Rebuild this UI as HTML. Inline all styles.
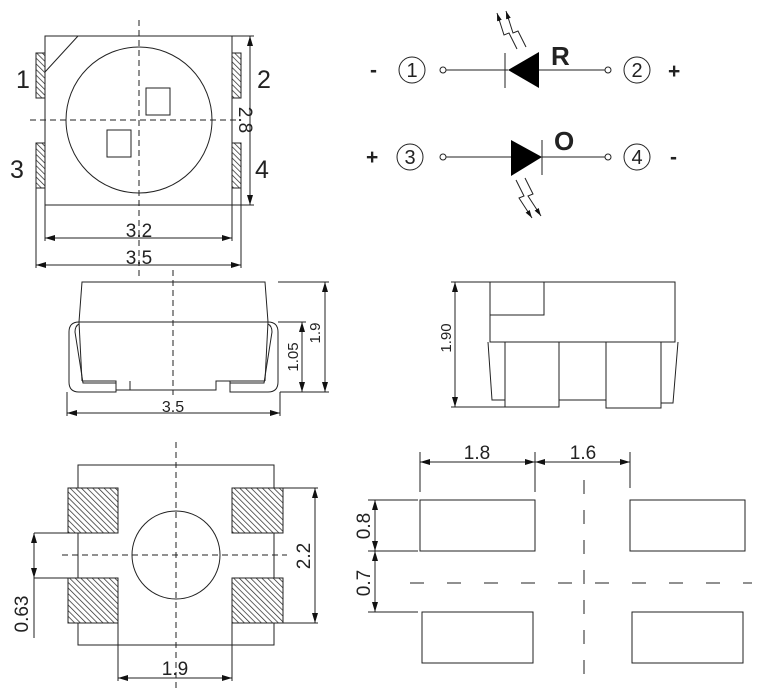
<!DOCTYPE html>
<html><head><meta charset="utf-8"><style>
html,body{margin:0;padding:0;background:#fff;}
svg{display:block;}
text{font-family:"Liberation Sans",sans-serif;fill:#222;}
</style></head><body>
<svg width="764" height="690" viewBox="0 0 764 690" xmlns="http://www.w3.org/2000/svg">
<defs>
<pattern id="h" width="4" height="4" patternUnits="userSpaceOnUse" patternTransform="rotate(-45)">
<rect width="4" height="4" fill="#fff"/><line x1="0" y1="0" x2="0" y2="4" stroke="#222" stroke-width="1.4"/>
</pattern>
<marker id="a" viewBox="0 0 10 6" refX="10" refY="3" markerWidth="10" markerHeight="6" orient="auto-start-reverse" markerUnits="userSpaceOnUse"><path d="M0,0 L10,3 L0,6 z" fill="#111"/></marker>
<marker id="s" viewBox="0 0 10 6" refX="10" refY="3" markerWidth="8" markerHeight="6" orient="auto" markerUnits="userSpaceOnUse"><path d="M0,0 L10,3 L0,6 z" fill="#111"/></marker>
</defs>
<g stroke="#222" stroke-width="1" fill="none">
<!-- top view -->
<rect x="45" y="36" width="187" height="169"/>
<line x1="78" y1="36" x2="45" y2="72"/>
<circle cx="139" cy="120" r="73"/>
<rect x="146" y="88" width="24" height="27"/>
<rect x="107" y="130" width="24" height="27"/>
<rect x="36" y="53" width="9" height="45" fill="url(#h)"/>
<rect x="36" y="143" width="9" height="45" fill="url(#h)"/>
<rect x="232" y="53" width="9" height="45" fill="url(#h)"/>
<rect x="232" y="143" width="9" height="45" fill="url(#h)"/>
<line x1="139" y1="20" x2="139" y2="280" stroke-dasharray="6,4"/>
<line x1="30" y1="120" x2="240" y2="120" stroke-dasharray="6,4"/>
<line x1="232" y1="36" x2="254" y2="36"/><line x1="232" y1="205" x2="254" y2="205"/>
<line x1="250" y1="36" x2="250" y2="205" marker-start="url(#a)" marker-end="url(#a)"/>
<line x1="45" y1="205" x2="45" y2="241"/><line x1="232" y1="205" x2="232" y2="241"/>
<line x1="45" y1="238" x2="232" y2="238" marker-start="url(#a)" marker-end="url(#a)"/>
<line x1="36" y1="188" x2="36" y2="268"/><line x1="241" y1="188" x2="241" y2="268"/>
<line x1="36" y1="265" x2="241" y2="265" marker-start="url(#a)" marker-end="url(#a)"/>
<!-- side view -->
<path d="M82,282 L265,282 L268,322 L79,322 Z"/>
<line x1="79" y1="322" x2="82" y2="381"/><line x1="268" y1="322" x2="265" y2="381"/>
<path d="M82,381 L116,381 L116,390 L130,390 L130,381 L130,390 L216,390 L216,381 L230,381 L230,390 M230,381 L265,381"/>
<path d="M79,322 Q69,322 69,332 L69,382 Q69,392 79,392 L116,392 L116,383 L83,383 L75,332 Q75,326 79,324"/>
<path d="M268,322 Q278,322 278,332 L278,382 Q278,392 268,392 L230,392 L230,383 L264,383 L272,332 Q272,326 268,324"/>
<line x1="173" y1="270" x2="173" y2="395" stroke-dasharray="6,4"/>
<line x1="278" y1="282" x2="329" y2="282"/><line x1="278" y1="322" x2="306" y2="322"/><line x1="280" y1="392" x2="329" y2="392"/>
<line x1="325" y1="282" x2="325" y2="392" marker-start="url(#a)" marker-end="url(#a)"/>
<line x1="302" y1="322" x2="302" y2="392" marker-start="url(#a)" marker-end="url(#a)"/>
<line x1="67" y1="392" x2="67" y2="416"/><line x1="280" y1="392" x2="280" y2="416"/>
<line x1="67" y1="413" x2="280" y2="413" marker-start="url(#a)" marker-end="url(#a)"/>
<!-- right side view -->
<rect x="490" y="282" width="185" height="60"/>
<path d="M490,282 L490,315 L544,315 L544,282"/>
<path d="M488,342 L492,400 L505,400 M678,342 L673,403 L661,403"/>
<rect x="505" y="342" width="54" height="65"/>
<path d="M559,400 L606,400"/>
<rect x="606" y="342" width="55" height="66"/>
<line x1="451" y1="282" x2="490" y2="282"/><line x1="451" y1="407" x2="505" y2="407"/>
<line x1="455" y1="282" x2="455" y2="407" marker-start="url(#a)" marker-end="url(#a)"/>
<!-- schematic -->
<circle cx="443" cy="70" r="3"/><circle cx="608" cy="70" r="3"/>
<line x1="446" y1="70" x2="508" y2="70"/><line x1="538" y1="70" x2="605" y2="70"/>
<line x1="505" y1="53" x2="505" y2="88"/>
<circle cx="443" cy="157" r="3"/><circle cx="608" cy="157" r="3"/>
<line x1="446" y1="157" x2="512" y2="157"/><line x1="542" y1="157" x2="605" y2="157"/>
<line x1="542" y1="140" x2="542" y2="175"/>
<path d="M517,49 L509,33 L504,35 L497,13" marker-end="url(#s)"/>
<path d="M526,47 L518,31 L513,33 L506,11" marker-end="url(#s)"/>
<path d="M516,180 L524,196 L519,198 L532,218" marker-end="url(#s)"/>
<path d="M525,178 L533,194 L528,196 L541,216" marker-end="url(#s)"/>
<circle cx="412" cy="70" r="13"/><circle cx="637" cy="70" r="13"/>
<circle cx="410" cy="157" r="13"/><circle cx="637" cy="157" r="13"/>
<!-- footprint -->
<rect x="78" y="465" width="196" height="180"/>
<rect x="68" y="488" width="50" height="45" fill="url(#h)"/>
<rect x="68" y="578" width="50" height="45" fill="url(#h)"/>
<rect x="232" y="488" width="51" height="45" fill="url(#h)"/>
<rect x="232" y="578" width="51" height="45" fill="url(#h)"/>
<circle cx="176" cy="555" r="44"/>
<line x1="176" y1="442" x2="176" y2="688" stroke-dasharray="6,4"/>
<line x1="62" y1="555" x2="287" y2="555" stroke-dasharray="6,4"/>
<line x1="283" y1="488" x2="318" y2="488"/><line x1="283" y1="623" x2="318" y2="623"/>
<line x1="315" y1="488" x2="315" y2="623" marker-start="url(#a)" marker-end="url(#a)"/>
<line x1="34" y1="533" x2="68" y2="533"/><line x1="34" y1="578" x2="68" y2="578"/>
<line x1="34" y1="533" x2="34" y2="578" marker-start="url(#a)" marker-end="url(#a)"/>
<line x1="34" y1="578" x2="34" y2="638"/>
<line x1="118" y1="623" x2="118" y2="681"/><line x1="232" y1="623" x2="232" y2="681"/>
<line x1="118" y1="678" x2="232" y2="678" marker-start="url(#a)" marker-end="url(#a)"/>
<!-- pad layout -->
<rect x="420" y="500" width="115" height="51"/>
<rect x="630" y="500" width="115" height="51"/>
<rect x="422" y="612" width="111" height="51"/>
<rect x="632" y="612" width="111" height="51"/>
<line x1="584" y1="480" x2="584" y2="680" stroke-dasharray="14,16"/>
<line x1="410" y1="583" x2="752" y2="583" stroke-dasharray="14,23"/>
<line x1="420" y1="452" x2="420" y2="492"/><line x1="535" y1="452" x2="535" y2="492"/><line x1="630" y1="452" x2="630" y2="488"/>
<line x1="420" y1="462" x2="535" y2="462" marker-start="url(#a)" marker-end="url(#a)"/>
<line x1="535" y1="462" x2="630" y2="462" marker-start="url(#a)" marker-end="url(#a)"/>
<line x1="368" y1="500" x2="418" y2="500"/><line x1="368" y1="551" x2="418" y2="551"/><line x1="368" y1="612" x2="418" y2="612"/>
<line x1="375" y1="500" x2="375" y2="551" marker-start="url(#a)" marker-end="url(#a)"/>
<line x1="375" y1="551" x2="375" y2="612" marker-start="url(#a)" marker-end="url(#a)"/>
</g>
<!-- diode triangles -->
<path d="M508,70 L539,52 L539,88 Z" fill="#000"/>
<path d="M511,140 L542,157 L511,176 Z" fill="#000"/>
<!-- texts -->
<g font-size="25">
<text x="16" y="88">1</text><text x="10" y="178">3</text>
<text x="257" y="88">2</text><text x="255" y="178">4</text>
</g>
<g font-size="19" text-anchor="middle">
<text x="139" y="237">3.2</text><text x="139" y="264">3.5</text>
<text x="244" y="120" transform="rotate(90 244 120)" dominant-baseline="middle">2.8</text>
<text x="173" y="412" font-size="16">3.5</text>
<text x="320" y="333" font-size="15" transform="rotate(-90 320 333)">1.9</text>
<text x="298" y="357" font-size="15" transform="rotate(-90 298 357)">1.05</text>
<text x="451" y="338" font-size="15" transform="rotate(-90 451 338)">1.90</text>
<text x="175" y="675">1.9</text>
<text x="310" y="556" transform="rotate(-90 310 556)">2.2</text>
<text x="28" y="614" transform="rotate(-90 28 614)">0.63</text>
<text x="477" y="459">1.8</text><text x="583" y="459">1.6</text>
<text x="370" y="526" transform="rotate(-90 370 526)">0.8</text>
<text x="370" y="583" transform="rotate(-90 370 583)">0.7</text>
</g>
<g font-size="21" font-weight="bold">
<text x="370" y="77">-</text><text x="668" y="78">+</text>
<text x="366" y="164">+</text><text x="670" y="164">-</text>
</g>
<g font-size="26" font-weight="bold">
<text x="551" y="65">R</text><text x="554" y="150">O</text>
</g>
<g font-family="'Liberation Serif',serif" font-size="20" text-anchor="middle">
<text x="412" y="77">1</text><text x="637" y="77">2</text>
<text x="410" y="164">3</text><text x="637" y="164">4</text>
</g>
</svg>
</body></html>
